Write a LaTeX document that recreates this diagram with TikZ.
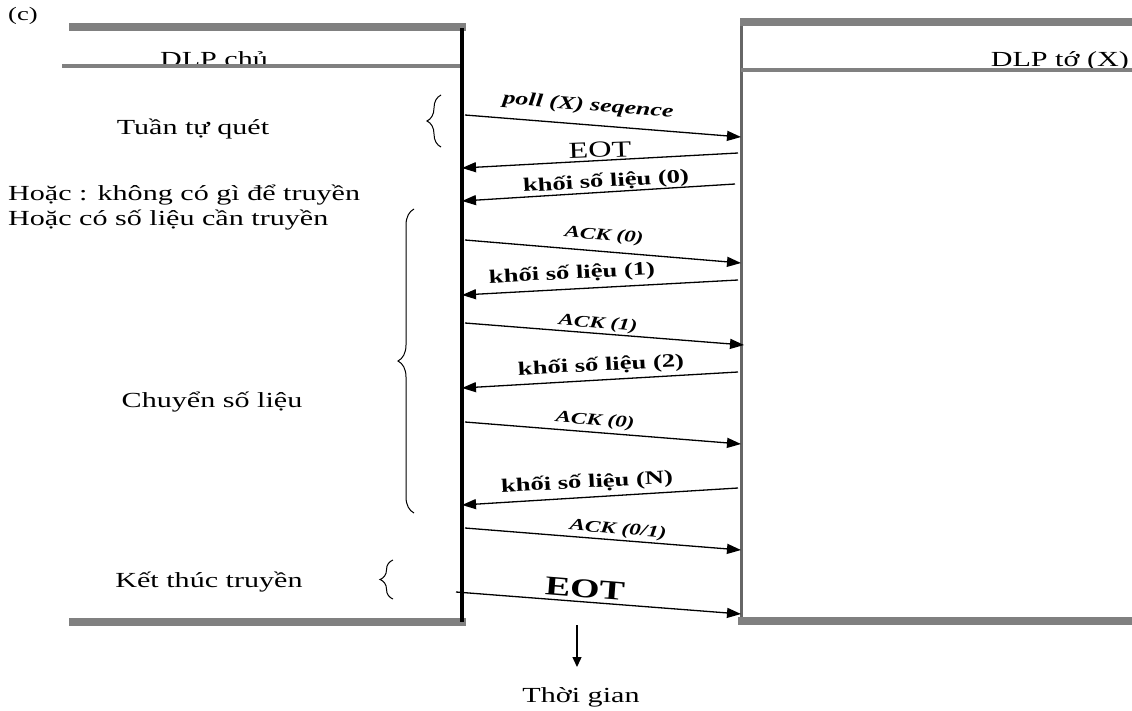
\documentclass[tikz,border=0pt]{standalone}
\usepackage{fontspec}
\setmainfont[FakeStretch=1.4]{Liberation Serif}
\usetikzlibrary{arrows.meta,decorations.pathreplacing}
\begin{document}
\begin{tikzpicture}[x=1pt,y=-1pt,
  msg/.style={line width=1.3pt,-{Triangle[length=14pt,width=10pt]}},
  graybar/.style={draw=gray,line width=8pt},
  grayline/.style={draw=gray,line width=4pt},
  txt/.style={font=\fontsize{21.5}{24}\selectfont,inner sep=0pt},
  dlbl/.style={font=\fontsize{19}{21}\selectfont\bfseries,inner sep=0pt},
  albl/.style={font=\fontsize{16.5}{18}\selectfont\bfseries\itshape,inner sep=0pt},
  plbl/.style={font=\fontsize{18.5}{20}\selectfont\bfseries\itshape,inner sep=0pt},
  brc/.style={decorate,decoration={brace,amplitude=#1},line width=1pt}
]
\useasboundingbox (0,0) rectangle (1132,710);
% texts (under lines)
\node[txt,anchor=base,font=\fontsize{19}{21}\selectfont] (c) at (23,20) {(c)};
\node[txt,anchor=base] (mst) at (214,66) {DLP chủ};
\node[txt,anchor=base east] (slv) at (1129,66) {DLP tớ (X)};
% left frame
\coordinate (lt1) at (69,27); \coordinate (lt2) at (466,27);
\coordinate (ll1) at (62,66); \coordinate (ll2) at (460,66);
\coordinate (lb1) at (69,622); \coordinate (lb2) at (466,622);
\draw[graybar] (lt1) -- (lt2);
\draw[grayline] (ll1) -- (ll2);
\draw[graybar] (lb1) -- (lb2);
\coordinate (mtop) at (462,28); \coordinate (mbot) at (462,622);
\draw[line width=4pt] (mtop) -- (mbot);
% right frame
\coordinate (rv1) at (741,20); \coordinate (rv2) at (741,620);
\draw[draw=gray!80!black,line width=3pt] (rv1) -- (rv2);
\coordinate (rt1) at (740,22); \coordinate (rt2) at (1132,22);
\coordinate (rl1) at (741,70); \coordinate (rl2) at (1132,70);
\coordinate (rb1) at (738,621); \coordinate (rb2) at (1132,621);
\draw[graybar] (rt1) -- (rt2);
\draw[grayline] (rl1) -- (rl2);
\draw[graybar] (rb1) -- (rb2);
% messages
\coordinate (a1) at (465,115); \coordinate (b1) at (741,137);
\draw[msg] (a1) -- (b1);
\node[plbl,rotate=-4.5] (l1) at (588,106) {poll (X) seqence};
\coordinate (a2) at (738,153); \coordinate (b2) at (462,168);
\draw[msg] (a2) -- (b2);
\node[inner sep=0pt,font=\fontsize{23}{25}\selectfont,rotate=2] (l2) at (600,150) {EOT};
\coordinate (a3) at (735,184); \coordinate (b3) at (462,201);
\draw[msg] (a3) -- (b3);
\node[dlbl,rotate=3.5] (l3) at (606,182) {khối số liệu (0)};
\coordinate (a4) at (465,240); \coordinate (b4) at (741,263);
\draw[msg] (a4) -- (b4);
\node[albl,rotate=-4.5] (l4) at (604,236) {ACK (0)};
\coordinate (a5) at (738,280); \coordinate (b5) at (462,295);
\draw[msg] (a5) -- (b5);
\node[dlbl,rotate=3] (l5) at (572,274) {khối số liệu (1)};
\coordinate (a6) at (465,323); \coordinate (b6) at (744,345);
\draw[msg] (a6) -- (b6);
\node[albl,rotate=-4.5] (l6) at (598,324) {ACK (1)};
\coordinate (a7) at (738,372); \coordinate (b7) at (462,388);
\draw[msg] (a7) -- (b7);
\node[dlbl,rotate=3] (l7) at (601,366) {khối số liệu (2)};
\coordinate (a8) at (465,422); \coordinate (b8) at (741,444);
\draw[msg] (a8) -- (b8);
\node[albl,rotate=-4.5] (l8) at (595,421) {ACK (0)};
\coordinate (a9) at (738,488); \coordinate (b9) at (462,505);
\draw[msg] (a9) -- (b9);
\node[dlbl,rotate=3] (l9) at (587,483) {khối số liệu (N)};
\coordinate (a10) at (465,528); \coordinate (b10) at (741,550);
\draw[msg] (a10) -- (b10);
\node[albl,rotate=-5] (l10) at (618,530) {ACK (0/1)};
\coordinate (a11) at (456,592); \coordinate (b11) at (741,614);
\draw[msg] (a11) -- (b11);
\node[inner sep=0pt,font=\fontsize{27}{30}\selectfont\bfseries,rotate=-4.5] (l11) at (585,589) {EOT};
% braces and phase labels
\coordinate (br1a) at (441,147); \coordinate (br1b) at (441,95);
\draw[brc=14pt] (br1a) -- (br1b);
\node[txt,anchor=base] (p1) at (193,134) {Tuần tự quét};
\node[txt,anchor=base west] (h1) at (8,200) {Hoặc : không có gì để truyền};
\node[txt,anchor=base west] (h2) at (8,225) {Hoặc có số liệu cần truyền};
\coordinate (br2a) at (414,513); \coordinate (br2b) at (414,209);
\draw[brc=16pt] (br2a) -- (br2b);
\node[txt,anchor=base] (p2) at (212,407) {Chuyển số liệu};
\coordinate (br3a) at (393,599); \coordinate (br3b) at (393,560);
\draw[brc=13pt] (br3a) -- (br3b);
\node[txt,anchor=base] (p3) at (209,587) {Kết thúc truyền};
% time arrow
\coordinate (t0) at (577,625); \coordinate (t1) at (577,667);
\draw[line width=1.3pt,-{Triangle[length=10pt,width=9pt]}] (t0) -- (t1);
\node[txt,anchor=base] (tg) at (581,702) {Thời gian};
\end{tikzpicture}
\end{document}
